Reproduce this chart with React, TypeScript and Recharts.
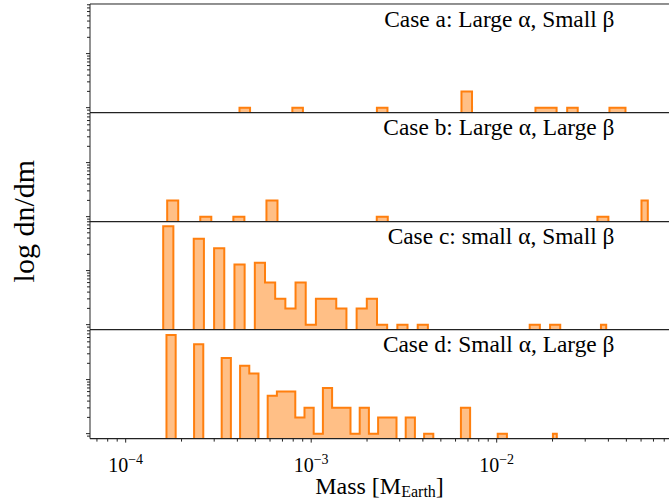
import React from "react";
import { Area, ComposedChart, ReferenceLine, XAxis, YAxis } from "recharts";

// bins are even in log10(mass): first edge, width (dex), last edge (last bin stops at the largest mass)
const binsA = { start: -3.3865, step: 0.05698, end: -1.3057 };
const binsB = { start: -3.7763, step: 0.05946, end: -1.1854 };
const binsC = { start: -3.7978, step: 0.05488, end: -1.4097 };
const binsD = { start: -3.7801, step: 0.0496, end: -1.676 };

// counts per bin
const countsA = [1, 0, 0, 0, 0, 1, 0, 0, 0, 0, 0, 0, 0, 1, 0, 0, 0, 0, 0, 0, 0, 2, 0, 0, 0, 0, 0, 0, 1, 1, 0, 1, 0, 0, 0, 1, 1];
const countsB = [2, 0, 0, 1, 0, 0, 1, 0, 0, 2, 0, 0, 0, 0, 0, 0, 0, 0, 0, 1, 0, 0, 0, 0, 0, 0, 0, 0, 0, 0, 0, 0, 0, 0, 0, 0, 0, 0, 0, 1, 0, 0, 0, 2];
const countsC = [66, 0, 0, 39, 0, 26, 0, 13, 0, 14, 6, 3, 2, 6, 1, 3, 3, 2, 0, 2, 3, 1, 0, 1, 0, 1, 0, 0, 0, 0, 0, 0, 0, 0, 0, 0, 1, 0, 1, 0, 0, 0, 0, 1];
const countsD = [67, 0, 0, 45, 0, 0, 25, 0, 18, 13, 0, 5, 6, 6, 2, 3, 1, 7, 3, 3, 1, 3, 1, 2, 2, 0, 2, 0, 1, 0, 0, 0, 3, 0, 0, 0, 1, 0, 0, 0, 0, 0, 1];

const caseLabels = [
  "Case a: Large α, Small β",
  "Case b: Large α, Large β",
  "Case c: small α, Small β",
  "Case d: Small α, Large β",
];

const xMajor = [1e-4, 1e-3, 1e-2];
const yMajor = [1, 10];

const W = 669;
const PLOT_LEFT = 90;
const PANEL_TOP = [4, 112.6, 221.2, 329.8];
const PANEL_H = 108.6;
const PAD = 3;
const X_AXIS_H = 60;
const X_DOMAIN = [6.4226e-5, 0.084867];
const Y_MIN = 0.81;
const Y_MAX = 82.7;
const FLOOR = 0.5; // empty bins sit below the axis
const SPINE = "#222";
const EDGE = "#ff7f0e";
const FACE = "#ffbf86";
const FONT = '"Liberation Serif", "Times New Roman", serif';

// px per decade on the x axis, used to turn a tick length into a mass just left of the axis
const X_DECADE_PX = (W - PLOT_LEFT) / Math.log10(X_DOMAIN[1] / X_DOMAIN[0]);
const leftOfAxis = (px: number) => X_DOMAIN[0] / 10 ** (px / X_DECADE_PX);

const minors = (lo: number, hi: number) => {
  const out: number[] = [];
  for (let e = lo; e <= hi; e++) for (let d = 2; d <= 9; d++) out.push(Number((d * 10 ** e).toPrecision(6)));
  return out;
};
const xTicks = [...xMajor, ...minors(-5, -2)]
  .filter((v) => v >= X_DOMAIN[0] && v <= X_DOMAIN[1])
  .sort((a, b) => a - b);
const yTicks = [...yMajor, ...minors(-1, 1)]
  .filter((v) => v >= Y_MIN && v <= Y_MAX)
  .sort((a, b) => a - b);

const stepData = (bins: { start: number; step: number; end: number }, counts: number[]) => {
  const pts = [{ m: 10 ** bins.start, n: FLOOR }];
  counts.forEach((c, k) => pts.push({ m: 10 ** (bins.start + k * bins.step), n: c > 0 ? c : FLOOR }));
  const lastC = counts[counts.length - 1];
  pts.push({ m: 10 ** bins.end, n: lastC > 0 ? lastC : FLOOR });
  pts.push({ m: 10 ** bins.end, n: FLOOR });
  return pts;
};

const XTick = (p: any) => {
  const v = p.payload.value;
  const major = xMajor.includes(v);
  const axisY = PAD + PANEL_H;
  return (
    <g>
      <line x1={p.x} x2={p.x} y1={axisY} y2={axisY + (major ? 4 : 3)} stroke={SPINE} strokeWidth={1} />
      {major && (
        <text x={p.x} y={axisY + 33} textAnchor="middle" fontSize={20} fontFamily={FONT} fill="#000">
          10
          <tspan dy={-8} fontSize={14}>
            {"−" + Math.round(-Math.log10(v))}
          </tspan>
        </text>
      )}
    </g>
  );
};

const Panel = ({ idx, bins, counts }: { idx: number; bins: any; counts: number[] }) => {
  const last = idx === 3;
  const data = stepData(bins, counts);
  return (
    <div style={{ position: "absolute", left: 0, top: PANEL_TOP[idx] - PAD }}>
      <ComposedChart
        width={W}
        height={PANEL_H + PAD + (last ? X_AXIS_H : PAD)}
        data={data}
        margin={{ top: PAD, right: 0, bottom: last ? 0 : PAD, left: 0 }}
      >
        <XAxis
          dataKey="m"
          type="number"
          scale="log"
          domain={X_DOMAIN}
          allowDataOverflow
          ticks={last ? xTicks : undefined}
          interval={0}
          tick={last ? XTick : false}
          tickLine={false}
          height={last ? X_AXIS_H : 0}
          axisLine={false}
        />
        <YAxis
          type="number"
          scale="log"
          domain={[Y_MIN, Y_MAX]}
          allowDataOverflow
          tick={false}
          tickLine={false}
          width={PLOT_LEFT}
          axisLine={{ stroke: SPINE, strokeWidth: 1 }}
        />
        <Area
          type="stepAfter"
          dataKey="n"
          stroke={EDGE}
          strokeWidth={2}
          strokeLinejoin="miter"
          fill={FACE}
          fillOpacity={1}
          dot={false}
          activeDot={false}
          isAnimationActive={false}
        />
        {yTicks.map((v) => (
          <ReferenceLine
            key={v}
            segment={[
              { x: leftOfAxis(yMajor.includes(v) ? 4 : 3), y: v },
              { x: X_DOMAIN[0], y: v },
            ]}
            stroke={SPINE}
            strokeWidth={1}
            ifOverflow="visible"
          />
        ))}
        {idx === 0 && <ReferenceLine y={Y_MAX} stroke={SPINE} strokeWidth={1} ifOverflow="visible" />}
        <ReferenceLine y={Y_MIN} stroke={SPINE} strokeWidth={1.2} ifOverflow="visible" />
      </ComposedChart>
    </div>
  );
};

export default function App() {
  const sets = [
    { bins: binsA, counts: countsA },
    { bins: binsB, counts: countsB },
    { bins: binsC, counts: countsC },
    { bins: binsD, counts: countsD },
  ];
  return (
    <div style={{ position: "absolute", left: 0, top: 0, width: W, height: 502, overflow: "hidden", background: "#fff" }}>
      {sets.map((s, i) => (
        <Panel key={i} idx={i} bins={s.bins} counts={s.counts} />
      ))}
      <svg width={W} height={502} style={{ position: "absolute", left: 0, top: 0, pointerEvents: "none" }}>
        {caseLabels.map((t, i) => (
          <text key={t} x={614.5} y={PANEL_TOP[i] + 22.5} textAnchor="end" fontSize={23.4} fontFamily={FONT} fill="#000">
            {t}
          </text>
        ))}
        <text
          transform={`translate(23, ${PANEL_TOP[0] + (PANEL_H * 4) / 2}) rotate(-90)`}
          textAnchor="middle"
          dominantBaseline="central"
          fontSize={30}
          fontFamily={FONT}
          fill="#000"
        >
          log dn/dm
        </text>
        <text x={(PLOT_LEFT + W) / 2} y={494} textAnchor="middle" fontSize={24} fontFamily={FONT} fill="#000">
          Mass [M
          <tspan dy={3} fontSize={16}>
            Earth
          </tspan>
          <tspan dy={-3}>]</tspan>
        </text>
      </svg>
    </div>
  );
}
